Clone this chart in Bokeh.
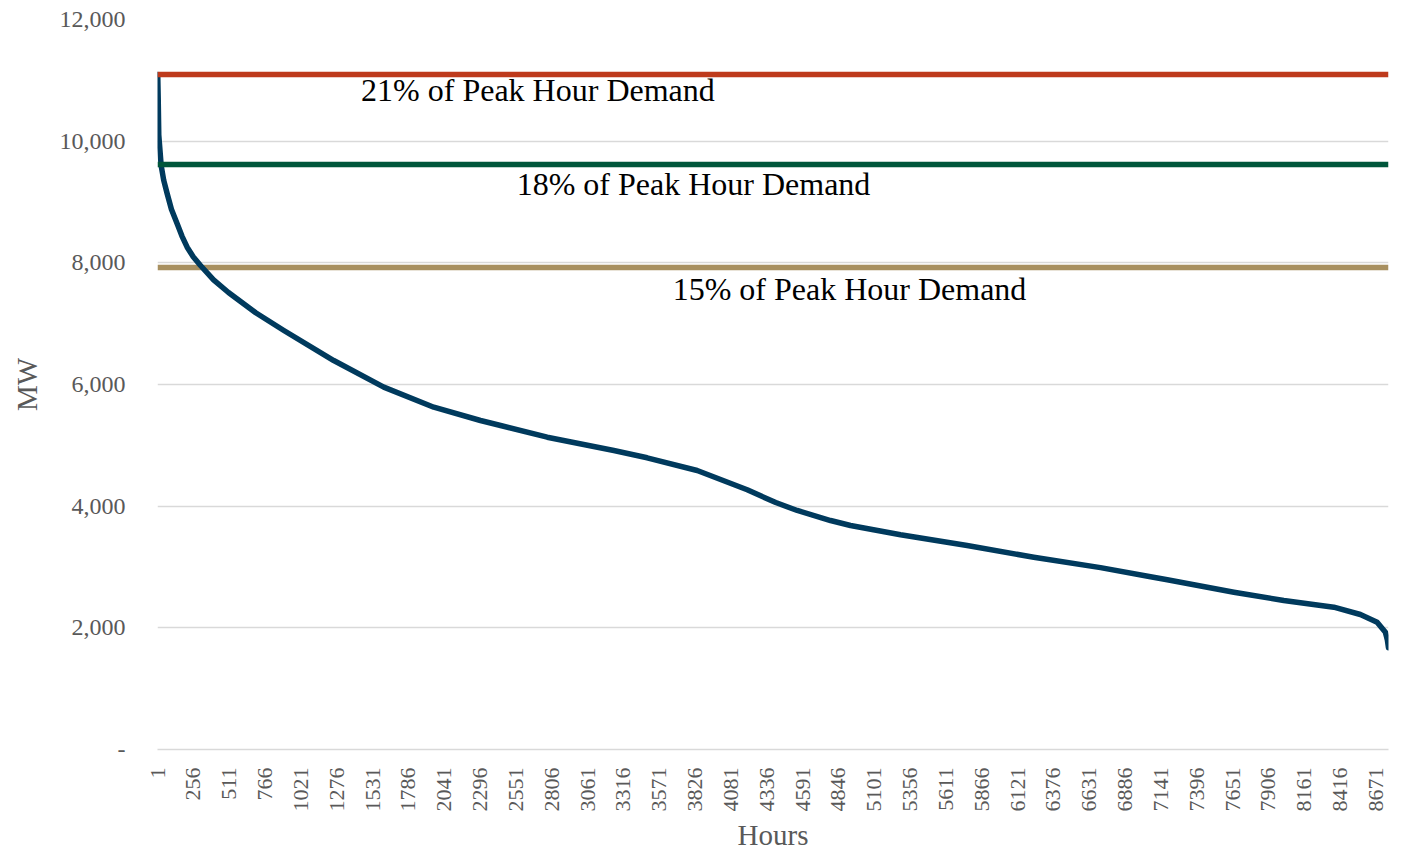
from bokeh.plotting import figure
from bokeh.models import Range1d, FixedTicker, NumeralTickFormatter, BasicTickFormatter, ColumnDataSource
from bokeh.core.properties import value
from bokeh.embed import file_html
from bokeh.resources import INLINE
import math

# Load duration curve
hours = [1, 3, 6, 10, 27, 45, 70, 100, 141, 175, 212, 255, 307, 400, 506, 700, 900,
         1255, 1611, 1967, 2299, 2442, 2774, 3248, 3485, 3841, 4197, 4400, 4553, 4790,
         4932, 5288, 5762, 6236, 6711, 7067, 7186, 7660, 8015, 8371, 8560, 8679, 8738,
         8752, 8760]
mw = [11096, 11050, 10700, 10100, 9600, 9360, 9135, 8880, 8641, 8440, 8257, 8100, 7956,
      7720, 7512, 7180, 6888, 6394, 5956, 5627, 5408, 5326, 5134, 4915, 4795, 4586,
      4269, 4060, 3929, 3764, 3682, 3529, 3353, 3161, 2990, 2840, 2790, 2586, 2449,
      2339, 2219, 2093, 1928, 1800, 1672]

levels = [11096, 9616, 7923]
level_colors = ["#BE3A1C", "#00563B", "#A89060"]
level_labels = ["21% of Peak Hour Demand", "18% of Peak Hour Demand", "15% of Peak Hour Demand"]
label_hours = [2708, 3815, 4925]
label_mw = [10833, 9304, 7578]

x_ticks = list(range(1, 8761, 255))
y_ticks = [0, 2000, 4000, 6000, 8000, 10000, 12000]

FONT = "Liberation Serif"
GRAY = "#595959"

p = figure(width=1400, height=853, output_backend="svg", toolbar_location=None,
           x_range=Range1d(1, 8760), y_range=Range1d(0, 12000),
           min_border_left=157, min_border_right=12, min_border_top=19, min_border_bottom=104)
p.outline_line_color = None

# gridlines
p.xgrid.grid_line_color = None
p.ygrid.grid_line_color = "#D9D9D9"
p.ygrid.grid_line_width = 1.5
p.ygrid.ticker = FixedTicker(ticks=y_ticks)

# tan level below curve
p.hspan(y=[levels[2]], line_color=level_colors[2], line_width=5.5)
p.line(hours, mw, line_color="#003A5D", line_width=5.5, line_join="round", line_cap="round")
p.hspan(y=[levels[1]], line_color=level_colors[1], line_width=5.5)
p.hspan(y=[levels[0]], line_color=level_colors[0], line_width=5.5)

src = ColumnDataSource(dict(x=label_hours, y=label_mw, t=level_labels))
p.text(x="x", y="y", text="t", source=src, text_font=value(FONT), text_font_size="32px",
       text_color="#000000", text_align="center", text_baseline="middle")

# x axis
xa = p.xaxis[0]
xa.ticker = FixedTicker(ticks=x_ticks)
xa.formatter = BasicTickFormatter(use_scientific=False)
xa.major_label_orientation = math.pi / 2
xa.major_label_text_font = FONT
xa.major_label_text_font_size = "22px"
xa.major_label_text_color = GRAY
xa.major_label_standoff = 12
xa.major_tick_line_color = None
xa.minor_tick_line_color = None
xa.axis_line_color = "#D9D9D9"
xa.axis_line_width = 1.5
xa.axis_label = "Hours"
xa.axis_label_text_font = FONT
xa.axis_label_text_font_size = "29px"
xa.axis_label_text_font_style = "normal"
xa.axis_label_text_color = GRAY
xa.axis_label_standoff = 4

# y axis
ya = p.yaxis[0]
ya.ticker = FixedTicker(ticks=y_ticks)
ya.formatter = NumeralTickFormatter(format="0,0")
ya.major_label_overrides = {0: "-"}
ya.major_label_text_font = FONT
ya.major_label_text_font_size = "24px"
ya.major_label_text_color = GRAY
ya.major_label_standoff = 26
ya.major_tick_line_color = None
ya.minor_tick_line_color = None
ya.axis_line_color = None
ya.axis_label = "MW"
ya.axis_label_text_font = FONT
ya.axis_label_text_font_size = "29px"
ya.axis_label_text_font_style = "normal"
ya.axis_label_text_color = GRAY
ya.axis_label_standoff = 14

open("out.html", "w").write(file_html(p, INLINE))
